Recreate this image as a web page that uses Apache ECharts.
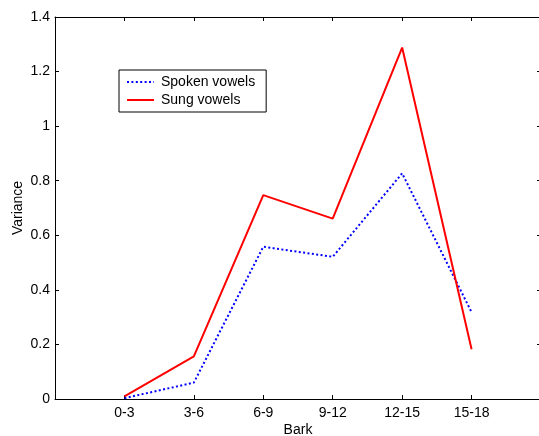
<!DOCTYPE html>
<html>
<head>
<meta charset="utf-8">
<script src="https://cdn.jsdelivr.net/npm/echarts@6/dist/echarts.min.js"></script>
<style>
  html, body { margin: 0; padding: 0; background: #fff; }
  #chart { width: 539px; height: 436px; }
</style>
</head>
<body>
<div id="chart"></div>
<script>
// Bark bands on the x axis, variance per band for each vowel type.
const categories = ["0-3", "3-6", "6-9", "9-12", "12-15", "15-18"];
const spoken = [0.003, 0.06, 0.558, 0.521, 0.827, 0.318];
const sung = [0.01, 0.156, 0.747, 0.661, 1.288, 0.182];

const FONT = "Liberation Sans, Arial, sans-serif";
const FS = 14;
const toPts = (vals) => vals.map((v, i) => [i + 1, v]);

const chart = echarts.init(document.getElementById("chart"), null, { renderer: "canvas" });

const tickLabel = (v) => {
  const i = Math.round(v) - 1;
  return i >= 0 && i < categories.length ? categories[i] : "";
};

const axisLine = { show: true, onZero: false, lineStyle: { color: "#000", width: 1 } };
const axisTick = { show: true, inside: true, length: 4, lineStyle: { color: "#000" } };

chart.setOption({
  animation: false,
  backgroundColor: "#fff",
  grid: { left: 55, top: 17, right: -2, bottom: 37, outerBoundsMode: "none", containLabel: false },
  legend: {
    orient: "vertical",
    left: 119,
    top: 70,
    padding: [5, 11, 5, 7],
    itemGap: 4,
    itemWidth: 27,
    itemHeight: 10,
    borderColor: "#000",
    borderWidth: 1,
    backgroundColor: "#fff",
    itemStyle: { opacity: 0 },
    textStyle: { fontFamily: FONT, fontSize: FS, color: "#000", padding: [0, 0, 0, 2] },
    data: ["Spoken vowels", "Sung vowels"],
  },
  xAxis: [
    {
      type: "value",
      min: 0,
      max: 7,
      interval: 1,
      name: "Bark",
      nameLocation: "middle",
      nameMoveOverlap: false,
      nameGap: 24,
      nameTextStyle: { fontFamily: FONT, fontSize: FS, color: "#000" },
      axisLine,
      axisTick,
      splitLine: { show: false },
      axisLabel: { formatter: tickLabel, fontFamily: FONT, fontSize: FS, color: "#000", margin: 7 },
    },
    {
      type: "value",
      position: "top",
      min: 0,
      max: 7,
      interval: 1,
      axisLine,
      axisTick,
      splitLine: { show: false },
      axisLabel: { show: false },
    },
  ],
  yAxis: [
    {
      type: "value",
      min: 0,
      max: 1.4,
      interval: 0.2,
      name: "Variance",
      nameLocation: "middle",
      nameMoveOverlap: false,
      nameGap: 30,
      nameTextStyle: { fontFamily: FONT, fontSize: FS, color: "#000" },
      axisLine,
      axisTick,
      splitLine: { show: false },
      axisLabel: { fontFamily: FONT, fontSize: FS, color: "#000", margin: 5 },
    },
    {
      type: "value",
      position: "right",
      min: 0,
      max: 1.4,
      interval: 0.2,
      axisLine,
      axisTick,
      splitLine: { show: false },
      axisLabel: { show: false },
    },
  ],
  series: [
    {
      name: "Spoken vowels",
      type: "line",
      data: toPts(spoken),
      symbol: "none",
      color: "#0000ff",
      lineStyle: { color: "#0000ff", width: 2, type: [2, 2.4] },
    },
    {
      name: "Sung vowels",
      type: "line",
      data: toPts(sung),
      symbol: "none",
      color: "#ff0000",
      lineStyle: { color: "#ff0000", width: 2 },
    },
  ],
});
</script>
</body>
</html>
